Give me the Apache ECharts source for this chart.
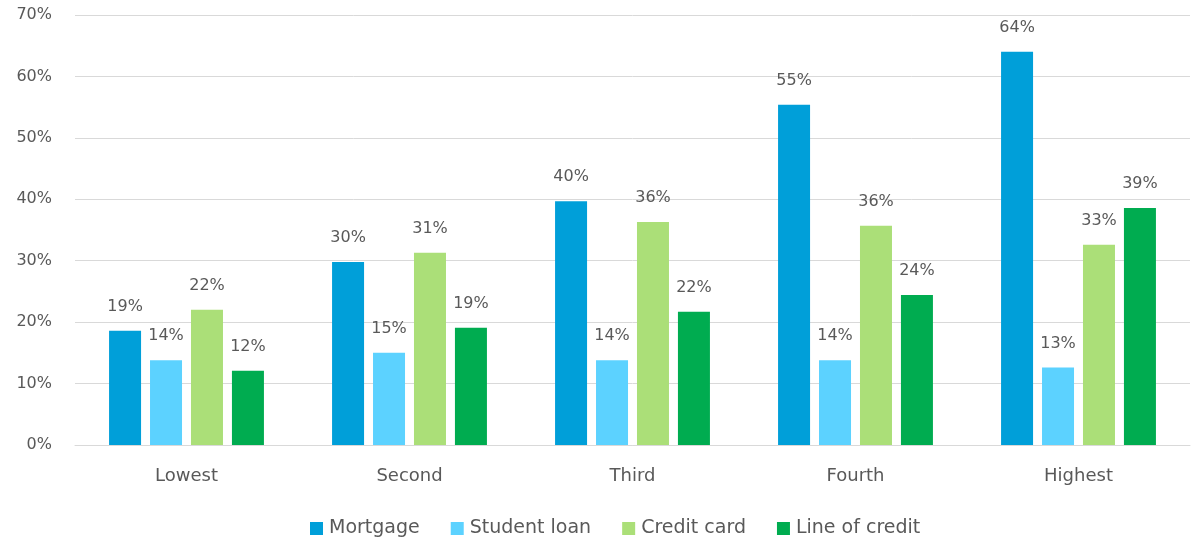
<!DOCTYPE html>
<html>
<head>
<meta charset="utf-8">
<script src="https://cdn.jsdelivr.net/npm/echarts@6/dist/echarts.min.js"></script>
<style>
  html, body { margin: 0; padding: 0; background: #fff; }
  #chart { width: 1193px; height: 543px; }
</style>
</head>
<body>
<div id="chart"></div>
<script>
// income groups
var categories = ['Lowest', 'Second', 'Third', 'Fourth', 'Highest'];
var seriesNames = ['Mortgage', 'Student loan', 'Credit card', 'Line of credit'];
// share of households with each debt type (%)
var mortgage = [18.6, 29.8, 39.7, 55.4, 64.0];
var studentLoan = [13.8, 15.0, 13.8, 13.8, 12.6];
var creditCard = [22.0, 31.3, 36.3, 35.7, 32.6];
var lineOfCredit = [12.1, 19.1, 21.7, 24.4, 38.6];
var yTicks = [0, 10, 20, 30, 40, 50, 60, 70];

var colors = ['#009FD9', '#5CD2FF', '#ABDF78', '#00AC50'];
var textColor = '#595959';
var fontFamily = '"DejaVu Sans", sans-serif';

var chart = echarts.init(document.getElementById('chart'));

var makeSeries = function(name, data, i) {
  return {
    name: name,
    type: 'bar',
    data: data,
    barWidth: 32,
    barGap: '28%',
    itemStyle: { color: colors[i] },
    label: {
      show: true,
      position: 'top',
      distance: 16,
      color: textColor,
      fontSize: 16,
      fontFamily: fontFamily,
      formatter: function(p) { return Math.round(p.value) + '%'; }
    }
  };
};

var allData = [mortgage, studentLoan, creditCard, lineOfCredit];

chart.setOption({
  animation: false,
  color: colors,
  grid: { left: 75, right: 3, top: 15, bottom: 98 },
  legend: {
    bottom: 0,
    left: 305,
    itemWidth: 13,
    itemHeight: 13,
    itemGap: 31,
    icon: 'rect',
    textStyle: { color: textColor, fontSize: 19, fontFamily: fontFamily, padding: [0, 0, 0, 1] },
    data: seriesNames
  },
  xAxis: {
    type: 'category',
    data: categories,
    axisLine: { lineStyle: { color: '#d9d9d9', width: 1 } },
    axisTick: { show: false },
    axisLabel: { color: textColor, fontSize: 18, fontFamily: fontFamily, margin: 22 }
  },
  yAxis: {
    type: 'value',
    min: yTicks[0],
    max: yTicks[yTicks.length - 1],
    interval: 10,
    axisLine: { show: false },
    axisTick: { show: false },
    splitLine: { lineStyle: { color: '#d9d9d9', width: 1 } },
    axisLabel: {
      color: textColor, fontSize: 16, fontFamily: fontFamily, margin: 23,
      formatter: '{value}%'
    }
  },
  series: seriesNames.map(function(n, i) { return makeSeries(n, allData[i], i); })
});
</script>
</body>
</html>
